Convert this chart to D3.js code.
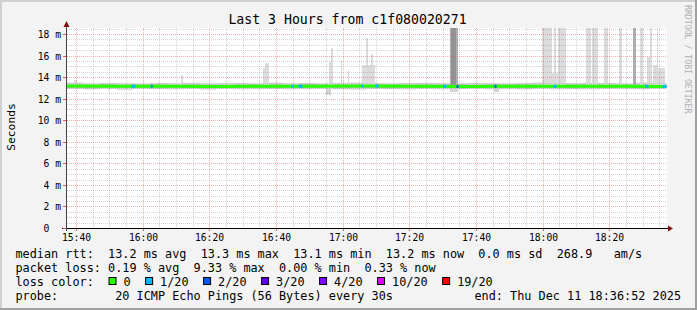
<!DOCTYPE html>
<html><head><meta charset="utf-8">
<script src="https://cdn.jsdelivr.net/npm/d3@7"></script>
<style>
html,body{margin:0;padding:0;background:#f3f3f3;}
svg{display:block;}
text{font-family:"DejaVu Sans Mono",monospace;white-space:pre;}
</style></head><body>
<svg id="c" width="697" height="310"></svg>
<script>
// ---------------- data ----------------
const title = "Last 3 Hours from c1f080020271";
const yAxisTitle = "Seconds";
const watermark = "RRDTOOL / TOBI OETIKER";
const timeStart = "15:37:00", timeEnd = "18:37:00";
const yMaxMs = 18.557;
const yTickValues = [0, 2, 4, 6, 8, 10, 12, 14, 16, 18];
const yTickLabels = [" 0  ", " 2 m", " 4 m", " 6 m", " 8 m", "10 m", "12 m", "14 m", "16 m", "18 m"];
const xTickTimes = ["15:40:00", "16:00:00", "16:20:00", "16:40:00", "17:00:00", "17:20:00", "17:40:00", "18:00:00", "18:20:00"];
const xTickLabels = ["15:40", "16:00", "16:20", "16:40", "17:00", "17:20", "17:40", "18:00", "18:20"];

// median RTT (ms)
const medianTimes = ["15:37:00","15:52:00","16:07:00","16:22:00","16:37:00","16:52:00","17:07:00","17:22:00","17:37:00","17:52:00","18:07:00","18:22:00","18:37:00"];
const medianMs    = [13.22, 13.20, 13.20, 13.18, 13.20, 13.20, 13.22, 13.20, 13.18, 13.20, 13.20, 13.20, 13.18];

// base smoke band (ms), 5-minute buckets from 15:37
const bandStepMin = 5;
const bandHighMs = [13.55,13.45,13.50,13.48,13.42,13.50,13.45,13.52,13.45,13.48,13.50,13.45,13.55,13.48,13.50,13.45,13.50,13.55,13.48,13.45,13.50,13.52,13.48,13.45,13.50,13.48,13.45,13.50,13.55,13.50,13.48,13.52,13.50,13.45,13.55,13.50,13.48];
const bandLowMs  = [12.95,12.90,12.95,12.85,12.95,12.92,12.90,12.95,12.88,12.95,12.90,12.93,12.95,12.90,12.92,12.95,12.90,12.88,12.95,12.92,12.90,12.95,12.90,12.93,12.95,12.90,12.92,12.90,12.95,12.90,12.93,12.90,12.95,12.92,12.90,12.95,12.93];
const innerHighMs = [13.36,13.34,13.38,13.33,13.35,13.37,13.34,13.36,13.35,13.33,13.37,13.35,13.36,13.34,13.38,13.35,13.36,13.34,13.37,13.35,13.33,13.36,13.35,13.38,13.34,13.36,13.35,13.37,13.34,13.36,13.35,13.38,13.34,13.36,13.35,13.37,13.34];
const innerLowMs  = [13.04,13.02,13.05,13.03,13.04,13.02,13.05,13.04,13.02,13.05,13.03,13.04,13.02,13.05,13.04,13.03,13.02,13.05,13.04,13.02,13.05,13.03,13.04,13.02,13.05,13.04,13.03,13.02,13.05,13.04,13.02,13.05,13.03,13.04,13.02,13.05,13.04];

// smoke spikes above the median
const spikeStart = ["15:39:24","16:11:30","16:36:06","16:36:42","16:55:54","16:56:30","16:59:30","17:01:36","17:05:48","17:07:00","17:08:30","17:32:12","17:32:30","17:59:54","18:02:48","18:03:24","18:04:36","18:13:00","18:14:48","18:18:24","18:22:54","18:27:06","18:29:12","18:31:18","18:32:12","18:33:06","18:34:18","18:34:36"];
const spikeEnd   = ["15:40:18","16:12:06","16:37:00","16:37:54","16:57:06","16:57:06","16:59:48","17:01:54","17:09:42","17:07:36","17:09:06","17:34:36","17:33:54","18:02:48","18:04:36","18:04:00","18:07:00","18:14:30","18:16:36","18:19:36","18:23:48","18:28:00","18:30:06","18:32:48","18:32:48","18:34:18","18:34:36","18:36:42"];
const spikeTopMs = [13.7, 14.2, 14.8, 15.3, 15.4, 16.7, 15.6, 14.7, 15.1, 17.6, 16.1, 19, 19, 19, 14.4, 19, 19, 19, 19, 19, 19, 19, 19, 15.9, 19, 15.1, 19, 14.8];
const spikeLevel = [1,1,1,1,1,1,1,1,1,1,1,2,3,1,1,1,1,1,1,1,1,2,1,1,1,1,1,1];

// smoke dips below the median
const dipStart = ["15:49:30","16:55:00","17:32:12","17:45:24"];
const dipEnd   = ["15:50:06","16:56:30","17:34:36","17:47:00"];
const dipBottomMs = [12.8, 12.35, 12.6, 12.65];

// packet loss episodes (index into lossLabels)
const lossStart = ["15:56:30","16:02:12","16:02:30","16:44:30","16:46:36","17:05:30","17:09:42","17:30:06","17:34:00","17:45:24","18:03:06","18:30:42","18:35:48"];
const lossEnd   = ["15:57:42","16:02:30","16:02:48","16:45:06","16:47:48","17:06:06","17:10:36","17:31:00","17:34:36","17:46:00","18:04:00","18:31:36","18:37:00"];
const lossLevel = [1,1,2,1,1,1,1,1,2,2,1,1,1];

const lossLabels = ["0", "1/20", "2/20", "3/20", "4/20", "10/20", "19/20"];
const lossColors = ["#26ff00", "#00b8ff", "#0059ff", "#5e00ff", "#7e00ff", "#dd00ff", "#ff0000"];

const legendLine1 = "median rtt:  13.2 ms avg  13.3 ms max  13.1 ms min  13.2 ms now  0.0 ms sd  268.9   am/s";
const legendLine2 = "packet loss: 0.19 % avg  9.33 % max  0.00 % min  0.33 % now";
const legendLine3Head = "loss color:";
const legendLine4 = "probe:        20 ICMP Echo Pings (56 Bytes) every 30s";
const legendEnd = "end: Thu Dec 11 18:36:52 2025";

// ---------------- drawing ----------------
const W = 697, H = 310;
const parse = d3.timeParse("%Y-%m-%d %H:%M:%S");
const T = s => parse("2025-12-11 " + s);
const L = 66.5, R = 666.5, B = 228.5, TOP = 28.5;

const svg = d3.select("#c");
const x = d3.scaleTime().domain([T(timeStart), T(timeEnd)]).range([L, R]);
const y = d3.scaleLinear().domain([0, yMaxMs]).range([B, TOP]);
const px = v => Math.floor(v) + 0.5;

// background & frame
svg.append("rect").attr("width", W).attr("height", H).attr("fill", "#f3f3f3");
svg.append("path").attr("d", `M0,0H${W}V2H2V${H}H0Z`).attr("fill", "#d0d0d0");
svg.append("path").attr("d", `M${W},${H}H0V${H-2}H${W-2}V0H${W}Z`).attr("fill", "#a0a0a0");
// canvas
svg.append("rect").attr("x", 67).attr("y", 28).attr("width", 600).attr("height", 200).attr("fill", "#ffffff");

svg.append("clipPath").attr("id", "plot").append("rect")
  .attr("x", 67).attr("y", 28).attr("width", 600).attr("height", 200);
const g = svg.append("g").attr("clip-path", "url(#plot)");

// base smoke band (stepped, like rrd buckets)
const t0 = T(timeStart);
const bandData = bandHighMs.map((h, i) => ({t: d3.timeMinute.offset(t0, i * bandStepMin), lo: bandLowMs[i], hi: h, ilo: innerLowMs[i], ihi: innerHighMs[i]}));
g.append("path").datum(bandData)
  .attr("d", d3.area().curve(d3.curveStepAfter).x(d => x(d.t)).y0(d => y(d.lo)).y1(d => y(d.hi)))
  .attr("fill", "#dcdcdc");
g.append("path").datum(bandData)
  .attr("d", d3.area().curve(d3.curveStepAfter).x(d => x(d.t)).y0(d => y(d.ilo)).y1(d => y(d.ihi)))
  .attr("fill", "#b4b4b4");

// spikes
const spikeColor = d3.scaleOrdinal().domain([1, 2, 3]).range(["#dcdcdc", "#b0b0b0", "#939393"]);
const spikes = spikeStart.map((s, i) => ({a: T(s), b: T(spikeEnd[i]), top: spikeTopMs[i], lvl: spikeLevel[i]}));
g.selectAll(".spike").data(spikes).join("rect")
  .attr("x", d => Math.floor(x(d.a)))
  .attr("width", d => Math.max(1, Math.floor(x(d.b)) - Math.floor(x(d.a))))
  .attr("y", d => Math.floor(y(d.top)))
  .attr("height", d => Math.floor(y(13.2)) - Math.floor(y(d.top)))
  .attr("fill", d => spikeColor(d.lvl));

// dips
const dips = dipStart.map((s, i) => ({a: T(s), b: T(dipEnd[i]), bot: dipBottomMs[i]}));
g.selectAll(".dip").data(dips).join("rect")
  .attr("x", d => Math.floor(x(d.a)))
  .attr("width", d => Math.max(1, Math.floor(x(d.b)) - Math.floor(x(d.a))))
  .attr("y", d => Math.floor(y(13.2)))
  .attr("height", d => Math.floor(y(d.bot)) - Math.floor(y(13.2)))
  .attr("fill", "#d4d4d4");

// grid (drawn over smoke, semi-transparent like rrdtool)
const minorY = d3.range(0, yMaxMs, 0.5).filter(v => v % 2 !== 0);
const minorX = d3.timeMinute.every(5).range(T(timeStart), T(timeEnd)).filter(t => t.getMinutes() % 20 !== 0);
const gridMinor = "rgba(140,140,140,0.38)", gridMajor = "rgba(235,70,70,0.45)";
g.selectAll(".gy").data(minorY).join("line")
  .attr("x1", 67).attr("x2", 667).attr("y1", d => px(y(d))).attr("y2", d => px(y(d)))
  .attr("stroke", gridMinor).attr("stroke-dasharray", "1,1");
g.selectAll(".gx").data(minorX).join("line")
  .attr("y1", 28).attr("y2", 228).attr("x1", d => px(x(d))).attr("x2", d => px(x(d)))
  .attr("stroke", gridMinor).attr("stroke-dasharray", "1,1");
g.selectAll(".My").data(yTickValues.filter(v => v > 0)).join("line")
  .attr("x1", 67).attr("x2", 667).attr("y1", d => px(y(d))).attr("y2", d => px(y(d)))
  .attr("stroke", gridMajor).attr("stroke-dasharray", "1,1");
g.selectAll(".Mx").data(xTickTimes.map(T)).join("line")
  .attr("y1", 28).attr("y2", 228).attr("x1", d => px(x(d))).attr("x2", d => px(x(d)))
  .attr("stroke", gridMajor).attr("stroke-dasharray", "1,1");

// median line
const medData = medianTimes.map((t, i) => ({t: T(t), v: medianMs[i]}));
const medLine = d3.line().x(d => x(d.t)).y(d => y(d.v));
g.append("path").datum(medData).attr("d", medLine)
  .attr("fill", "none").attr("stroke", lossColors[0]).attr("stroke-width", 3);

const medAt = d3.scaleTime().domain(medData.map(d => d.t)).range(medianMs);
lossStart.forEach((s, i) => {
  const a = T(s), b = T(lossEnd[i]);
  g.append("path").datum([{t: a, v: medAt(a)}, {t: b, v: medAt(b)}]).attr("d", medLine)
    .attr("fill", "none").attr("stroke", lossColors[lossLevel[i]]).attr("stroke-width", 3);
});

// axes
svg.append("line").attr("x1", 62).attr("x2", 668).attr("y1", B).attr("y2", B).attr("stroke", "#000");
svg.append("line").attr("x1", L).attr("x2", L).attr("y1", 231).attr("y2", 26).attr("stroke", "#444");
svg.append("path").attr("d", "M668,225.5L673,228.5L668,231.5Z").attr("fill", "#801010");
svg.append("path").attr("d", "M63.5,27L66.5,21L69.5,27Z").attr("fill", "#801010");
svg.selectAll(".xt").data(xTickTimes.map(T)).join("line")
  .attr("x1", d => px(x(d))).attr("x2", d => px(x(d))).attr("y1", 229).attr("y2", 231)
  .attr("stroke", "#e06060");
svg.selectAll(".yt").data(yTickValues).join("line")
  .attr("x1", 63).attr("x2", 66).attr("y1", d => px(y(d))).attr("y2", d => px(y(d)))
  .attr("stroke", "#e06060");

// axis labels
svg.selectAll(".xl").data(xTickTimes).join("text")
  .attr("x", (d) => px(x(T(d)))).attr("y", 241)
  .attr("text-anchor", "middle").attr("font-size", 9.7).attr("fill", "#000")
  .text((d, i) => xTickLabels[i]);
svg.selectAll(".yl").data(yTickValues).join("text")
  .attr("x", 61).attr("y", d => px(y(d)) + 3.3)
  .attr("text-anchor", "end").attr("font-size", 9.7).attr("fill", "#000")
  .text((d, i) => yTickLabels[i]);

// titles
svg.append("text").attr("x", 347.5).attr("y", 24).attr("text-anchor", "middle")
  .attr("font-size", 13.2).attr("fill", "#000").text(title);
svg.append("text").attr("transform", "translate(14.5,127) rotate(-90)").attr("text-anchor", "middle")
  .attr("font-size", 11.3).attr("fill", "#000").text(yAxisTitle);
svg.append("text").attr("transform", "translate(685,5) rotate(90)").attr("text-anchor", "start")
  .attr("font-size", 8.2).attr("fill", "#b0b0b0").text(watermark);

// legend
const LF = 11.83, LX = 15.5, CW = 7.12;
const leg = svg.append("g").attr("font-size", LF).attr("fill", "#000");
leg.append("text").attr("x", LX).attr("y", 258).text(legendLine1);
leg.append("text").attr("x", LX).attr("y", 272).text(legendLine2);
leg.append("text").attr("x", LX).attr("y", 285.7).text(legendLine3Head);
leg.append("text").attr("x", LX).attr("y", 299.5).text(legendLine4);
leg.append("text").attr("x", 681).attr("y", 299.5).attr("text-anchor", "end").text(legendEnd);
let cx = 108.5;
lossLabels.forEach((lab, i) => {
  svg.append("rect").attr("x", cx + 0.5).attr("y", 277.5).attr("width", 7).attr("height", 7)
    .attr("fill", lossColors[i]).attr("stroke", "#000").attr("stroke-width", 1);
  leg.append("text").attr("x", cx + 15).attr("y", 285.7).text(lab);
  cx = cx + 15 + lab.length * CW + 14.5;
});
</script>
</body></html>
